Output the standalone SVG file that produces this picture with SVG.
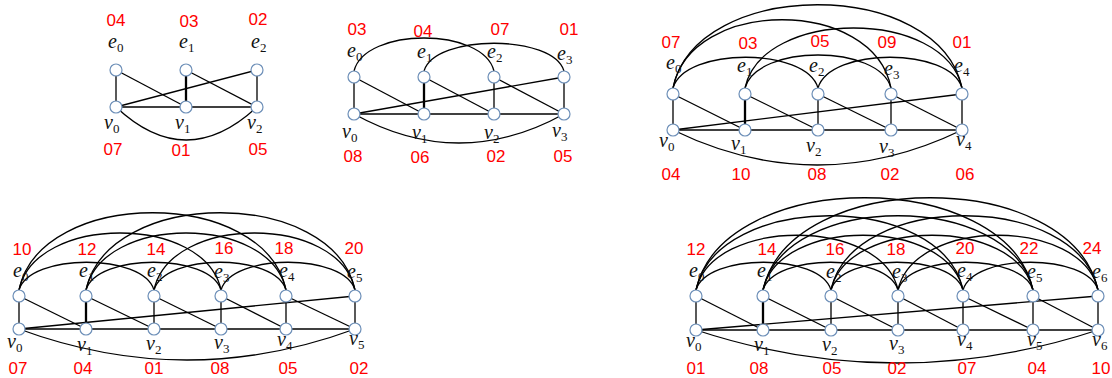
<svg xmlns="http://www.w3.org/2000/svg" width="1112" height="378" viewBox="0 0 1112 378">
<style>
.n{fill:#fff;stroke:#6d8fb8;stroke-width:1.2}
.c{fill:none;stroke:#000;stroke-width:1.3}
.t{stroke-width:2.3}
.lb{font-family:"Liberation Serif","DejaVu Serif",serif;font-style:italic;font-size:20px;fill:#111}
.sb{font-size:13px;font-style:normal}
.num{font-family:"Liberation Sans",Arial,sans-serif;font-size:17px;fill:#f00;text-anchor:middle}
</style>
<rect width="1112" height="378" fill="#fff"/>
<g id="connectors">
<g id="d1-edges">
<line class="c" x1="116" y1="70" x2="116" y2="107"/>
<line class="c" x1="116" y1="70" x2="186" y2="107"/>
<line class="c t" x1="186" y1="70" x2="186" y2="107"/>
<line class="c" x1="186" y1="70" x2="257" y2="107"/>
<line class="c" x1="257" y1="70" x2="257" y2="107"/>
<line class="c" x1="257" y1="70" x2="116" y2="107"/>
<line class="c" x1="116" y1="107" x2="257" y2="107"/>
<path class="c" d="M116,107 Q186,173 257,107"/>
</g>
<g id="d2-edges">
<line class="c" x1="354" y1="77" x2="354" y2="114"/>
<line class="c" x1="354" y1="77" x2="424" y2="114"/>
<line class="c t" x1="424" y1="77" x2="424" y2="114"/>
<line class="c" x1="424" y1="77" x2="494" y2="114"/>
<line class="c" x1="494" y1="77" x2="494" y2="114"/>
<line class="c" x1="494" y1="77" x2="564" y2="114"/>
<line class="c" x1="564" y1="77" x2="564" y2="114"/>
<line class="c" x1="564" y1="77" x2="354" y2="114"/>
<line class="c" x1="354" y1="114" x2="564" y2="114"/>
<path class="c" d="M354,114 Q459,172 564,114"/>
<path class="c" d="M354,71 C365,27 483,27 494,71"/>
<path class="c" d="M424,71 C435,34 553,34 564,71"/>
</g>
<g id="d3-edges">
<line class="c" x1="673" y1="94" x2="673" y2="130"/>
<line class="c" x1="673" y1="94" x2="745" y2="130"/>
<line class="c t" x1="745" y1="94" x2="745" y2="130"/>
<line class="c" x1="745" y1="94" x2="818" y2="130"/>
<line class="c" x1="818" y1="94" x2="818" y2="130"/>
<line class="c" x1="818" y1="94" x2="891" y2="130"/>
<line class="c" x1="891" y1="94" x2="891" y2="130"/>
<line class="c" x1="891" y1="94" x2="962" y2="130"/>
<line class="c" x1="962" y1="94" x2="962" y2="130"/>
<line class="c" x1="962" y1="94" x2="673" y2="130"/>
<line class="c" x1="673" y1="130" x2="962" y2="130"/>
<path class="c" d="M673,130 Q817,200 962,130"/>
<path class="c" d="M673,88 C685,47 806,47 818,88"/>
<path class="c" d="M745,88 C757,44 879,44 891,88"/>
<path class="c" d="M818,88 C830,47 950,47 962,88"/>
<path class="c" d="M673,88 C690,-3 874,-3 891,88"/>
<path class="c" d="M745,88 C762,8 945,8 962,88"/>
<path class="c" d="M673,88 C696,-23 939,-23 962,88"/>
</g>
<g id="d4-edges">
<line class="c" x1="19" y1="296" x2="19" y2="329"/>
<line class="c" x1="19" y1="296" x2="86" y2="329"/>
<line class="c t" x1="86" y1="296" x2="86" y2="329"/>
<line class="c" x1="86" y1="296" x2="154" y2="329"/>
<line class="c" x1="154" y1="296" x2="154" y2="329"/>
<line class="c" x1="154" y1="296" x2="221" y2="329"/>
<line class="c" x1="221" y1="296" x2="221" y2="329"/>
<line class="c" x1="221" y1="296" x2="286" y2="329"/>
<line class="c" x1="286" y1="296" x2="286" y2="329"/>
<line class="c" x1="286" y1="296" x2="355" y2="329"/>
<line class="c" x1="355" y1="296" x2="355" y2="329"/>
<line class="c" x1="355" y1="296" x2="19" y2="329"/>
<line class="c" x1="19" y1="329" x2="355" y2="329"/>
<path class="c" d="M19,329 Q187,391 355,329"/>
<path class="c" d="M19,290 C30,253 143,253 154,290"/>
<path class="c" d="M86,290 C97,253 210,253 221,290"/>
<path class="c" d="M154,290 C165,253 275,253 286,290"/>
<path class="c" d="M221,290 C232,253 344,253 355,290"/>
<path class="c" d="M19,290 C35,214 205,214 221,290"/>
<path class="c" d="M86,290 C102,214 270,214 286,290"/>
<path class="c" d="M154,290 C170,214 339,214 355,290"/>
<path class="c" d="M19,290 C40,187 265,187 286,290"/>
<path class="c" d="M86,290 C108,187 333,187 355,290"/>
</g>
<g id="d5-edges">
<line class="c" x1="696" y1="296" x2="696" y2="330"/>
<line class="c" x1="696" y1="296" x2="763" y2="330"/>
<line class="c t" x1="763" y1="296" x2="763" y2="330"/>
<line class="c" x1="763" y1="296" x2="831" y2="330"/>
<line class="c" x1="831" y1="296" x2="831" y2="330"/>
<line class="c" x1="831" y1="296" x2="898" y2="330"/>
<line class="c" x1="898" y1="296" x2="898" y2="330"/>
<line class="c" x1="898" y1="296" x2="963" y2="330"/>
<line class="c" x1="963" y1="296" x2="963" y2="330"/>
<line class="c" x1="963" y1="296" x2="1033" y2="330"/>
<line class="c" x1="1033" y1="296" x2="1033" y2="330"/>
<line class="c" x1="1033" y1="296" x2="1098" y2="330"/>
<line class="c" x1="1098" y1="296" x2="1098" y2="330"/>
<line class="c" x1="1098" y1="296" x2="696" y2="330"/>
<line class="c" x1="696" y1="330" x2="1098" y2="330"/>
<path class="c" d="M696,330 Q897,396 1098,330"/>
<path class="c" d="M696,290 C707,253 820,253 831,290"/>
<path class="c" d="M763,290 C774,253 887,253 898,290"/>
<path class="c" d="M831,290 C842,253 952,253 963,290"/>
<path class="c" d="M898,290 C909,253 1022,253 1033,290"/>
<path class="c" d="M963,290 C974,253 1087,253 1098,290"/>
<path class="c" d="M696,290 C712,217 882,217 898,290"/>
<path class="c" d="M763,290 C779,217 947,217 963,290"/>
<path class="c" d="M831,290 C847,217 1017,217 1033,290"/>
<path class="c" d="M898,290 C914,217 1082,217 1098,290"/>
<path class="c" d="M696,290 C717,191 942,191 963,290"/>
<path class="c" d="M763,290 C785,191 1011,191 1033,290"/>
<path class="c" d="M831,290 C852,191 1077,191 1098,290"/>
<path class="c" d="M696,290 C723,167 1006,167 1033,290"/>
<path class="c" d="M763,290 C790,167 1071,167 1098,290"/>
</g>
</g>

<g id="d1-e0"><text class="num" x="116" y="26">04</text><text class="lb" x="108" y="48">e<tspan class="sb" dy="4">0</tspan></text><circle class="n" cx="116" cy="70" r="6"/></g>
<g id="d1-e1"><text class="num" x="189" y="27">03</text><text class="lb" x="179" y="48">e<tspan class="sb" dy="4">1</tspan></text><circle class="n" cx="186" cy="70" r="6"/></g>
<g id="d1-e2"><text class="num" x="258" y="25">02</text><text class="lb" x="251" y="48">e<tspan class="sb" dy="4">2</tspan></text><circle class="n" cx="257" cy="70" r="6"/></g>
<g id="d1-v0"><circle class="n" cx="116" cy="107" r="6"/><text class="lb" x="104" y="129">v<tspan class="sb" dy="4">0</tspan></text><text class="num" x="113" y="155">07</text></g>
<g id="d1-v1"><circle class="n" cx="186" cy="107" r="6"/><text class="lb" x="175" y="129">v<tspan class="sb" dy="4">1</tspan></text><text class="num" x="181" y="156">01</text></g>
<g id="d1-v2"><circle class="n" cx="257" cy="107" r="6"/><text class="lb" x="247" y="129">v<tspan class="sb" dy="4">2</tspan></text><text class="num" x="258" y="155">05</text></g>

<g id="d2-e0"><text class="num" x="357" y="35">03</text><text class="lb" x="347" y="57">e<tspan class="sb" dy="4">0</tspan></text><circle class="n" cx="354" cy="77" r="6"/></g>
<g id="d2-e1"><text class="num" x="423" y="37">04</text><text class="lb" x="417" y="58">e<tspan class="sb" dy="4">1</tspan></text><circle class="n" cx="424" cy="77" r="6"/></g>
<g id="d2-e2"><text class="num" x="500" y="35">07</text><text class="lb" x="487" y="58">e<tspan class="sb" dy="4">2</tspan></text><circle class="n" cx="494" cy="77" r="6"/></g>
<g id="d2-e3"><text class="num" x="569" y="35">01</text><text class="lb" x="557" y="60">e<tspan class="sb" dy="4">3</tspan></text><circle class="n" cx="564" cy="77" r="6"/></g>
<g id="d2-v0"><circle class="n" cx="354" cy="114" r="6"/><text class="lb" x="342" y="138">v<tspan class="sb" dy="4">0</tspan></text><text class="num" x="353" y="162">08</text></g>
<g id="d2-v1"><circle class="n" cx="424" cy="114" r="6"/><text class="lb" x="412" y="139">v<tspan class="sb" dy="4">1</tspan></text><text class="num" x="420" y="163">06</text></g>
<g id="d2-v2"><circle class="n" cx="494" cy="114" r="6"/><text class="lb" x="484" y="139">v<tspan class="sb" dy="4">2</tspan></text><text class="num" x="496" y="162">02</text></g>
<g id="d2-v3"><circle class="n" cx="564" cy="114" r="6"/><text class="lb" x="552" y="137">v<tspan class="sb" dy="4">3</tspan></text><text class="num" x="563" y="162">05</text></g>

<g id="d3-e0"><text class="num" x="671" y="48">07</text><text class="lb" x="666" y="69">e<tspan class="sb" dy="4">0</tspan></text><circle class="n" cx="673" cy="94" r="6"/></g>
<g id="d3-e1"><text class="num" x="748" y="49">03</text><text class="lb" x="737" y="72">e<tspan class="sb" dy="4">1</tspan></text><circle class="n" cx="745" cy="94" r="6"/></g>
<g id="d3-e2"><text class="num" x="820" y="47">05</text><text class="lb" x="809" y="72">e<tspan class="sb" dy="4">2</tspan></text><circle class="n" cx="818" cy="94" r="6"/></g>
<g id="d3-e3"><text class="num" x="887" y="48">09</text><text class="lb" x="884" y="75">e<tspan class="sb" dy="4">3</tspan></text><circle class="n" cx="891" cy="94" r="6"/></g>
<g id="d3-e4"><text class="num" x="962" y="48">01</text><text class="lb" x="954" y="72">e<tspan class="sb" dy="4">4</tspan></text><circle class="n" cx="962" cy="94" r="6"/></g>
<g id="d3-v0"><circle class="n" cx="673" cy="130" r="6"/><text class="lb" x="659" y="147">v<tspan class="sb" dy="4">0</tspan></text><text class="num" x="671" y="180">04</text></g>
<g id="d3-v1"><circle class="n" cx="745" cy="130" r="6"/><text class="lb" x="731" y="150">v<tspan class="sb" dy="4">1</tspan></text><text class="num" x="741" y="180">10</text></g>
<g id="d3-v2"><circle class="n" cx="818" cy="130" r="6"/><text class="lb" x="806" y="152">v<tspan class="sb" dy="4">2</tspan></text><text class="num" x="817" y="180">08</text></g>
<g id="d3-v3"><circle class="n" cx="891" cy="130" r="6"/><text class="lb" x="879" y="153">v<tspan class="sb" dy="4">3</tspan></text><text class="num" x="890" y="180">02</text></g>
<g id="d3-v4"><circle class="n" cx="962" cy="130" r="6"/><text class="lb" x="956" y="146">v<tspan class="sb" dy="4">4</tspan></text><text class="num" x="965" y="180">06</text></g>

<g id="d4-e0"><text class="num" x="22" y="255">10</text><text class="lb" x="13" y="277">e<tspan class="sb" dy="4">0</tspan></text><circle class="n" cx="19" cy="296" r="6"/></g>
<g id="d4-e1"><text class="num" x="87" y="255">12</text><text class="lb" x="79" y="277">e<tspan class="sb" dy="4">1</tspan></text><circle class="n" cx="86" cy="296" r="6"/></g>
<g id="d4-e2"><text class="num" x="156" y="255">14</text><text class="lb" x="147" y="277">e<tspan class="sb" dy="4">2</tspan></text><circle class="n" cx="154" cy="296" r="6"/></g>
<g id="d4-e3"><text class="num" x="224" y="254">16</text><text class="lb" x="214" y="278">e<tspan class="sb" dy="4">3</tspan></text><circle class="n" cx="221" cy="296" r="6"/></g>
<g id="d4-e4"><text class="num" x="284" y="254">18</text><text class="lb" x="279" y="277">e<tspan class="sb" dy="4">4</tspan></text><circle class="n" cx="286" cy="296" r="6"/></g>
<g id="d4-e5"><text class="num" x="354" y="254">20</text><text class="lb" x="347" y="278">e<tspan class="sb" dy="4">5</tspan></text><circle class="n" cx="355" cy="296" r="6"/></g>
<g id="d4-v0"><circle class="n" cx="19" cy="329" r="6"/><text class="lb" x="7" y="348">v<tspan class="sb" dy="4">0</tspan></text><text class="num" x="18" y="374">07</text></g>
<g id="d4-v1"><circle class="n" cx="86" cy="329" r="6"/><text class="lb" x="77" y="351">v<tspan class="sb" dy="4">1</tspan></text><text class="num" x="83" y="374">04</text></g>
<g id="d4-v2"><circle class="n" cx="154" cy="329" r="6"/><text class="lb" x="146" y="350">v<tspan class="sb" dy="4">2</tspan></text><text class="num" x="154" y="374">01</text></g>
<g id="d4-v3"><circle class="n" cx="221" cy="329" r="6"/><text class="lb" x="214" y="349">v<tspan class="sb" dy="4">3</tspan></text><text class="num" x="220" y="374">08</text></g>
<g id="d4-v4"><circle class="n" cx="286" cy="329" r="6"/><text class="lb" x="277" y="346">v<tspan class="sb" dy="4">4</tspan></text><text class="num" x="288" y="374">05</text></g>
<g id="d4-v5"><circle class="n" cx="355" cy="329" r="6"/><text class="lb" x="349" y="345">v<tspan class="sb" dy="4">5</tspan></text><text class="num" x="359" y="374">02</text></g>

<g id="d5-e0"><text class="num" x="696" y="255">12</text><text class="lb" x="689" y="277">e<tspan class="sb" dy="4">0</tspan></text><circle class="n" cx="696" cy="296" r="6"/></g>
<g id="d5-e1"><text class="num" x="767" y="255">14</text><text class="lb" x="757" y="277">e<tspan class="sb" dy="4">1</tspan></text><circle class="n" cx="763" cy="296" r="6"/></g>
<g id="d5-e2"><text class="num" x="835" y="255">16</text><text class="lb" x="826" y="278">e<tspan class="sb" dy="4">2</tspan></text><circle class="n" cx="831" cy="296" r="6"/></g>
<g id="d5-e3"><text class="num" x="896" y="255">18</text><text class="lb" x="892" y="278">e<tspan class="sb" dy="4">3</tspan></text><circle class="n" cx="898" cy="296" r="6"/></g>
<g id="d5-e4"><text class="num" x="965" y="254">20</text><text class="lb" x="957" y="277">e<tspan class="sb" dy="4">4</tspan></text><circle class="n" cx="963" cy="296" r="6"/></g>
<g id="d5-e5"><text class="num" x="1029" y="254">22</text><text class="lb" x="1027" y="278">e<tspan class="sb" dy="4">5</tspan></text><circle class="n" cx="1033" cy="296" r="6"/></g>
<g id="d5-e6"><text class="num" x="1092" y="254">24</text><text class="lb" x="1092" y="278">e<tspan class="sb" dy="4">6</tspan></text><circle class="n" cx="1098" cy="296" r="6"/></g>
<g id="d5-v0"><circle class="n" cx="696" cy="330" r="6"/><text class="lb" x="686" y="347">v<tspan class="sb" dy="4">0</tspan></text><text class="num" x="696" y="374">01</text></g>
<g id="d5-v1"><circle class="n" cx="763" cy="330" r="6"/><text class="lb" x="754" y="351">v<tspan class="sb" dy="4">1</tspan></text><text class="num" x="759" y="374">08</text></g>
<g id="d5-v2"><circle class="n" cx="831" cy="330" r="6"/><text class="lb" x="822" y="351">v<tspan class="sb" dy="4">2</tspan></text><text class="num" x="832" y="374">05</text></g>
<g id="d5-v3"><circle class="n" cx="898" cy="330" r="6"/><text class="lb" x="889" y="350">v<tspan class="sb" dy="4">3</tspan></text><text class="num" x="897" y="374">02</text></g>
<g id="d5-v4"><circle class="n" cx="963" cy="330" r="6"/><text class="lb" x="957" y="346">v<tspan class="sb" dy="4">4</tspan></text><text class="num" x="967" y="374">07</text></g>
<g id="d5-v5"><circle class="n" cx="1033" cy="330" r="6"/><text class="lb" x="1027" y="346">v<tspan class="sb" dy="4">5</tspan></text><text class="num" x="1037" y="374">04</text></g>
<g id="d5-v6"><circle class="n" cx="1098" cy="330" r="6"/><text class="lb" x="1092" y="346">v<tspan class="sb" dy="4">6</tspan></text><text class="num" x="1101" y="374">10</text></g>
</svg>
